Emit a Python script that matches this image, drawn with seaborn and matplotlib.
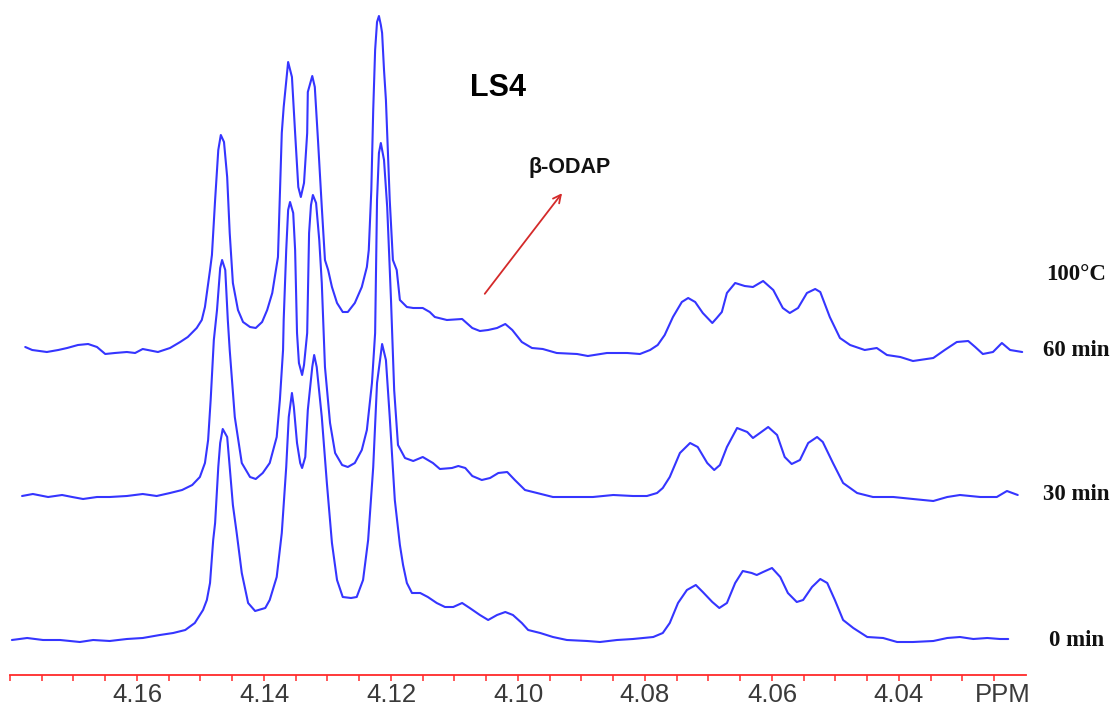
import numpy as np
import pandas as pd
import matplotlib
matplotlib.use("Agg")
import matplotlib.pyplot as plt
import matplotlib.transforms as mtransforms
import seaborn as sns

# ---------------- data ----------------
trace_labels = ["0 min", "30 min", "60 min"]
trace_offsets = [0, 145, 290]          # vertical stacking offsets (intensity units)

ppm_0 = [4.1797, 4.1773, 4.1748, 4.1721, 4.1690, 4.1669, 4.1643, 4.1616, 4.1591, 4.1564,
         4.1543, 4.1524, 4.1509, 4.1496, 4.1490, 4.1485, 4.1480, 4.1477, 4.1472, 4.1469,
         4.1465, 4.1458, 4.1454, 4.1449, 4.1443, 4.1435, 4.1425, 4.1414, 4.1398, 4.1391,
         4.1380, 4.1372, 4.1365, 4.1361, 4.1356, 4.1353, 4.1348, 4.1343, 4.1340, 4.1335,
         4.1331, 4.1324, 4.1321, 4.1317, 4.1309, 4.1301, 4.1293, 4.1285, 4.1276, 4.1263,
         4.1254, 4.1244, 4.1236, 4.1228, 4.1222, 4.1214, 4.1208, 4.1202, 4.1194, 4.1186,
         4.1181, 4.1175, 4.1167, 4.1154, 4.1142, 4.1128, 4.1115, 4.1102, 4.1088, 4.1076,
         4.1060, 4.1047, 4.1033, 4.1020, 4.1008, 4.0994, 4.0984, 4.0965, 4.0945, 4.0923,
         4.0891, 4.0871, 4.0844, 4.0819, 4.0787, 4.0772, 4.0761, 4.0748, 4.0734, 4.0720,
         4.0709, 4.0694, 4.0683, 4.0671, 4.0658, 4.0646, 4.0632, 4.0624, 4.0614, 4.0600,
         4.0587, 4.0575, 4.0561, 4.0551, 4.0537, 4.0524, 4.0513, 4.0501, 4.0488, 4.0472,
         4.0450, 4.0425, 4.0403, 4.0378, 4.0346, 4.0324, 4.0304, 4.0283, 4.0261, 4.0241,
         4.0228]
int_0 = [0, 2, 0, 0, -2, 0, -1, 1, 2, 5,
         7, 10, 17, 30, 40, 57, 100, 117, 173, 197,
         211, 203, 173, 135, 107, 67, 37, 29, 32, 40,
         63, 107, 173, 223, 247, 233, 197, 177, 172, 183,
         230, 273, 285, 273, 223, 157, 97, 60, 43, 42,
         43, 60, 100, 173, 257, 296, 280, 223, 140, 95,
         75, 57, 47, 47, 43, 37, 33, 33, 37, 32,
         25, 20, 25, 28, 25, 17, 10, 7, 3, 0,
         -1, -2, 0, 1, 3, 7, 17, 37, 50, 55,
         48, 38, 32, 37, 57, 69, 67, 65, 68, 72,
         63, 47, 38, 40, 53, 61, 57, 40, 20, 12,
         3, 2, -2, -2, -1, 2, 3, 1, 2, 1,
         1]

ppm_30 = [4.1781, 4.1764, 4.1740, 4.1718, 4.1702, 4.1685, 4.1663, 4.1643, 4.1616, 4.1591,
          4.1569, 4.1548, 4.1529, 4.1513, 4.1501, 4.1493, 4.1488, 4.1484, 4.1479, 4.1474,
          4.1469, 4.1466, 4.1461, 4.1457, 4.1454, 4.1446, 4.1435, 4.1422, 4.1413, 4.1402,
          4.1391, 4.1380, 4.1375, 4.1370, 4.1369, 4.1365, 4.1362, 4.1359, 4.1354, 4.1351,
          4.1348, 4.1345, 4.1340, 4.1337, 4.1332, 4.1329, 4.1326, 4.1323, 4.1318, 4.1313,
          4.1309, 4.1304, 4.1296, 4.1288, 4.1277, 4.1268, 4.1257, 4.1246, 4.1238, 4.1230,
          4.1225, 4.1222, 4.1219, 4.1216, 4.1211, 4.1206, 4.1203, 4.1200, 4.1195, 4.1189,
          4.1178, 4.1165, 4.1150, 4.1134, 4.1123, 4.1104, 4.1094, 4.1083, 4.1072, 4.1057,
          4.1044, 4.1031, 4.1017, 4.1005, 4.0989, 4.0970, 4.0945, 4.0913, 4.0882, 4.0850,
          4.0819, 4.0797, 4.0781, 4.0772, 4.0761, 4.0745, 4.0729, 4.0717, 4.0702, 4.0691,
          4.0682, 4.0671, 4.0655, 4.0639, 4.0630, 4.0619, 4.0606, 4.0592, 4.0580, 4.0569,
          4.0556, 4.0543, 4.0529, 4.0520, 4.0504, 4.0488, 4.0466, 4.0441, 4.0409, 4.0378,
          4.0346, 4.0324, 4.0304, 4.0272, 4.0246, 4.0230, 4.0213]
int_30 = [-1, 1, -2, 0, -2, -4, -2, -2, -1, 1,
          -1, 2, 5, 10, 18, 32, 55, 95, 155, 185,
          227, 235, 225, 175, 145, 78, 32, 18, 16, 22,
          32, 58, 95, 145, 175, 245, 285, 293, 282, 245,
          162, 132, 120, 130, 162, 262, 290, 300, 292, 255,
          212, 128, 72, 42, 30, 28, 32, 45, 65, 112,
          162, 295, 342, 352, 335, 288, 242, 195, 105, 50,
          37, 34, 38, 32, 26, 27, 29, 27, 19, 15,
          17, 22, 23, 15, 5, 2, -2, -2, -2, 0,
          -1, -1, 2, 7, 18, 42, 52, 48, 32, 25,
          30, 48, 67, 63, 57, 62, 68, 60, 38, 31,
          35, 52, 58, 53, 32, 12, 2, -2, -2, -4,
          -6, -2, 0, -2, -2, 4, 0]

ppm_60 = [4.1776, 4.1765, 4.1742, 4.1724, 4.1710, 4.1693, 4.1677, 4.1663, 4.1650, 4.1635,
          4.1616, 4.1603, 4.1591, 4.1567, 4.1548, 4.1532, 4.1520, 4.1506, 4.1498, 4.1493,
          4.1485, 4.1482, 4.1477, 4.1472, 4.1468, 4.1463, 4.1458, 4.1454, 4.1449, 4.1441,
          4.1433, 4.1422, 4.1413, 4.1403, 4.1395, 4.1387, 4.1383, 4.1378, 4.1372, 4.1369,
          4.1362, 4.1356, 4.1351, 4.1346, 4.1342, 4.1337, 4.1332, 4.1331, 4.1324, 4.1320,
          4.1315, 4.1309, 4.1304, 4.1299, 4.1293, 4.1285, 4.1276, 4.1268, 4.1257, 4.1246,
          4.1238, 4.1235, 4.1231, 4.1228, 4.1225, 4.1222, 4.1219, 4.1216, 4.1214, 4.1211,
          4.1208, 4.1202, 4.1197, 4.1191, 4.1186, 4.1175, 4.1165, 4.1150, 4.1139, 4.1131,
          4.1112, 4.1088, 4.1072, 4.1060, 4.1047, 4.1033, 4.1020, 4.1009, 4.0994, 4.0978,
          4.0961, 4.0939, 4.0907, 4.0890, 4.0860, 4.0828, 4.0808, 4.0792, 4.0780, 4.0769,
          4.0756, 4.0742, 4.0732, 4.0721, 4.0709, 4.0694, 4.0687, 4.0679, 4.0671, 4.0658,
          4.0643, 4.0630, 4.0614, 4.0598, 4.0583, 4.0572, 4.0559, 4.0545, 4.0532, 4.0524,
          4.0509, 4.0493, 4.0477, 4.0454, 4.0435, 4.0419, 4.0398, 4.0378, 4.0346, 4.0328,
          4.0309, 4.0291, 4.0280, 4.0268, 4.0252, 4.0238, 4.0225, 4.0206]
int_60 = [3, 0, -2, 0, 2, 5, 6, 3, -4, -3,
          -2, -3, 1, -2, 2, 8, 13, 22, 30, 43,
          80, 95, 150, 200, 215, 208, 173, 117, 67, 40,
          28, 23, 22, 28, 40, 57, 73, 93, 217, 243,
          288, 273, 217, 163, 153, 167, 217, 258, 274, 263,
          210, 143, 90, 80, 63, 47, 38, 38, 47, 63,
          83, 100, 160, 240, 300, 328, 334, 325, 317, 280,
          250, 150, 90, 80, 50, 43, 42, 42, 38, 33,
          30, 31, 22, 19, 20, 22, 26, 20, 8, 2,
          1, -3, -4, -6, -3, -3, -4, 0, 5, 15,
          33, 48, 52, 48, 37, 27, 32, 38, 57, 67,
          64, 63, 69, 60, 42, 37, 42, 57, 61, 58,
          33, 12, 5, 0, 2, -5, -7, -11, -8, 0,
          8, 9, 3, -4, -2, 7, 0, -2]

major_ticks = [4.16, 4.14, 4.12, 4.10, 4.08, 4.06, 4.04]
major_labels = ["4.16", "4.14", "4.12", "4.10", "4.08", "4.06", "4.04"]
title_text = "LS4"
annot_text = "β-ODAP"
temp_text = "100\u00b0C"

# ---------------- figure ----------------
sns.set_style("white")
plt.rcParams["font.family"] = ["Liberation Sans", "DejaVu Sans"]

W, H = 1117, 705
fig = plt.figure(figsize=(W / 100, H / 100), dpi=100)
ax = fig.add_axes([10 / W, 30 / H, (1026 - 10) / W, 675 / H])

frames = []
for lab, off, xs, ys in zip(trace_labels, trace_offsets,
                             [ppm_0, ppm_30, ppm_60], [int_0, int_30, int_60]):
    frames.append(pd.DataFrame({"ppm": xs, "signal": np.array(ys) + off, "trace": lab}))
df = pd.concat(frames, ignore_index=True)

sns.lineplot(data=df, x="ppm", y="signal", units="trace", estimator=None,
             color="#3535ff", linewidth=1.5, sort=True, ax=ax, legend=False,
             solid_joinstyle="round", solid_capstyle="round")

ax.set_xlim(4.18, 4.02)
ax.set_ylim(-35, 640)
ax.set_xlabel("")
ax.set_ylabel("")
ax.set_yticks([])
for s in ["top", "left", "right"]:
    ax.spines[s].set_visible(False)
ax.spines["bottom"].set_color("#ff2a2a")
ax.spines["bottom"].set_linewidth(1.3)

minor = np.round(np.arange(4.025, 4.1801, 0.005), 3)
ax.set_xticks(major_ticks)
ax.set_xticklabels(major_labels)
ax.set_xticks(minor, minor=True)
ax.tick_params(axis="x", which="both", bottom=True, direction="out", length=4.5,
               width=1.1, color="#ff2a2a", labelcolor="#3a3a3a", labelsize=18.5, pad=1)

# PPM unit label aligned with tick labels
trans = mtransforms.blended_transform_factory(ax.transData, ax.transAxes)
offset = mtransforms.ScaledTranslation(0, -5.5 / 72, fig.dpi_scale_trans)
ax.text(4.0237, 0, "PPM", transform=trans + offset, ha="center", va="top",
        fontsize=18.5, color="#3a3a3a")

# right-hand labels (serif bold)
serif = ["Liberation Serif", "DejaVu Serif"]
for lab, off in zip(trace_labels, trace_offsets):
    ax.text(4.0121, off, lab, ha="center", va="center", fontsize=16.5,
            fontweight="bold", family=serif, color="#111111", clip_on=False)
ax.text(4.0121, 365, temp_text, ha="center", va="center", fontsize=16.5,
        fontweight="bold", family=serif, color="#111111", clip_on=False)

# title and annotation
ax.text(4.1031, 552, title_text, ha="center", va="center", fontsize=22,
        fontweight="bold", color="#000000")
ax.text(4.0918, 472, annot_text, ha="center", va="center", fontsize=15.5,
        fontweight="bold", color="#111111")
ax.annotate("", xy=(4.0928, 449), xytext=(4.1055, 344),
            arrowprops=dict(arrowstyle="->", color="#d42a2a", lw=1.3,
                            mutation_scale=14))

fig.savefig("out.png", dpi=100)
